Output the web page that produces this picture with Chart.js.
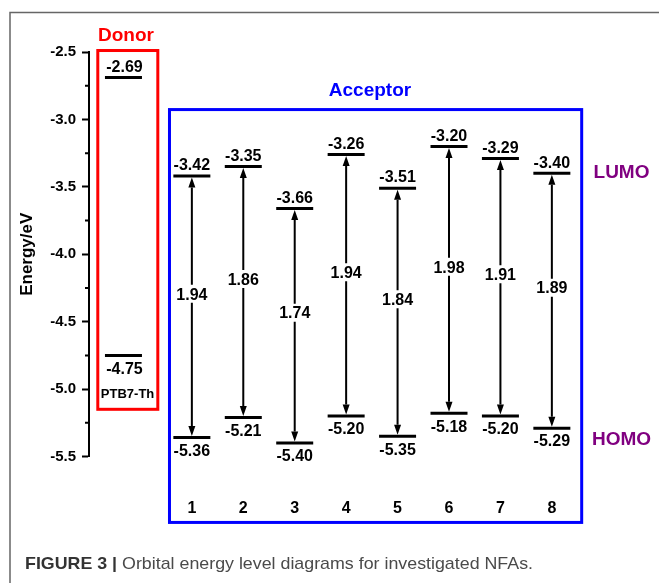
<!DOCTYPE html>
<html>
<head>
<meta charset="utf-8">
<script src="https://cdn.jsdelivr.net/npm/chart.js@4.4.1/dist/chart.umd.min.js"></script>
<style>
  html, body { margin: 0; padding: 0; background: #fff; }
  #wrap { position: relative; width: 659px; height: 583px; }
</style>
</head>
<body>
<div id="wrap"><canvas id="c" width="659" height="583"></canvas></div>
<script>
// ---- data (eV) ----
const acceptors = ['1', '2', '3', '4', '5', '6', '7', '8'];
const lumo = [-3.42, -3.35, -3.66, -3.26, -3.51, -3.20, -3.29, -3.40];
const homo = [-5.36, -5.21, -5.40, -5.20, -5.35, -5.18, -5.20, -5.29];
const gaps = [1.94, 1.86, 1.74, 1.94, 1.84, 1.98, 1.91, 1.89];
const donorName = 'PTB7-Th';
const donorLumo = -2.69;
const donorHomo = -4.75;

// ---- layout (data units) ----
const acceptorX = acceptors.map((_, i) => i + 1);
const donorX = -0.33;
const panels = [
  { color: '#ff0000', x0: -0.829, x1: 0.338, y0: -5.150, y1: -2.489 },
  { color: '#0000ff', x0: 0.565, x1: 8.580, y0: -5.989, y1: -2.927 }
];
const FONT = '"Liberation Sans", Arial, Helvetica, sans-serif';

function text(ctx, str, x, yc, size, color, weight, align) {
  ctx.font = `${weight || 'bold'} ${size}px ${FONT}`;
  ctx.fillStyle = color || '#000';
  ctx.textAlign = align || 'center';
  ctx.textBaseline = 'alphabetic';
  ctx.fillText(str, x, yc + size * 0.716 / 2);
}

const decor = {
  id: 'decor',
  afterDraw(chart) {
    const { ctx, chartArea, scales: { x, y } } = chart;
    const px = v => x.getPixelForValue(v);
    const py = v => y.getPixelForValue(v);
    ctx.save();

    // page frame
    ctx.strokeStyle = '#666';
    ctx.lineWidth = 1.5;
    ctx.beginPath();
    ctx.moveTo(10, 583); ctx.lineTo(10, 12.5); ctx.lineTo(659, 12.5);
    ctx.stroke();

    // minor ticks on the energy axis
    ctx.strokeStyle = '#000';
    ctx.lineWidth = 2;
    ctx.beginPath();
    for (let v = -5.25; v < -2.5; v += 0.5) {
      const yy = py(v);
      ctx.moveTo(chartArea.left - 4, yy); ctx.lineTo(chartArea.left, yy);
    }
    ctx.stroke();

    // donor / acceptor frames
    ctx.lineWidth = 3;
    for (const p of panels) {
      ctx.strokeStyle = p.color;
      ctx.strokeRect(px(p.x0), py(p.y1), px(p.x1) - px(p.x0), py(p.y0) - py(p.y1));
    }

    // gap arrows
    const HEAD = 10, HW = 3.5;
    ctx.fillStyle = '#000';
    ctx.strokeStyle = '#000';
    acceptorX.forEach((cx, i) => {
      const X = px(cx);
      const yt = py(lumo[i]) + 1.5;
      const yb = py(homo[i]) - 1.5;
      const yl = (py(lumo[i]) + py(homo[i])) / 2 - 13;
      ctx.lineWidth = 2;
      ctx.beginPath();
      ctx.moveTo(X, yt + HEAD); ctx.lineTo(X, yl - 9);
      ctx.moveTo(X, yl + 9); ctx.lineTo(X, yb - HEAD);
      ctx.stroke();
      ctx.beginPath();
      ctx.moveTo(X, yt); ctx.lineTo(X - HW, yt + HEAD); ctx.lineTo(X + HW, yt + HEAD); ctx.closePath();
      ctx.moveTo(X, yb); ctx.lineTo(X - HW, yb - HEAD); ctx.lineTo(X + HW, yb - HEAD); ctx.closePath();
      ctx.fill();
      text(ctx, gaps[i].toFixed(2), X, yl, 16);

      // level values
      text(ctx, lumo[i].toFixed(2), X, py(lumo[i]) - 11.5, 16);
      text(ctx, homo[i].toFixed(2), X, py(homo[i]) + 12.5, 16);
      // compound numbers
      text(ctx, acceptors[i], X, py(-5.873), 16);
    });

    // donor level values and name
    const DX = px(donorX);
    text(ctx, donorLumo.toFixed(2), DX + 1, py(donorLumo) - 11.5, 16);
    text(ctx, donorHomo.toFixed(2), DX + 1, py(donorHomo) + 12.5, 16);
    text(ctx, donorName, px(-0.25), py(-5.032), 13);

    // group labels
    text(ctx, 'Donor', px(-0.281), py(-2.370), 19, '#ff0000');
    text(ctx, 'Acceptor', px(4.464), py(-2.778), 19, '#0000ff');
    text(ctx, 'LUMO', px(9.354), py(-3.381), 19, '#800080');
    text(ctx, 'HOMO', px(9.354), py(-5.366), 19, '#800080');

    // caption
    const c1 = 'FIGURE 3 | ';
    const c2 = 'Orbital energy level diagrams for investigated NFAs.';
    ctx.textAlign = 'left';
    ctx.textBaseline = 'alphabetic';
    ctx.font = `bold 17px ${FONT}`;
    const w1 = ctx.measureText(c1).width;
    ctx.font = `normal 17px ${FONT}`;
    const w2 = ctx.measureText(c2).width;
    const sx = 508 / (w1 + w2);
    ctx.save();
    ctx.translate(25, 568.5);
    ctx.scale(sx, 1);
    ctx.font = `bold 17px ${FONT}`;
    ctx.fillStyle = '#333';
    ctx.fillText(c1, 0, 0);
    ctx.font = `normal 17px ${FONT}`;
    ctx.fillStyle = '#4a4a4a';
    ctx.fillText(c2, w1, 0);
    ctx.restore();

    ctx.restore();
  }
};

const levelStyle = {
  pointStyle: 'line',
  pointRadius: 18.5,
  pointBorderWidth: 3,
  pointBorderColor: '#000',
  pointBackgroundColor: '#000'
};

new Chart(document.getElementById('c'), {
  type: 'scatter',
  data: {
    datasets: [
      { label: 'LUMO', data: acceptorX.map((x, i) => ({ x, y: lumo[i] })), ...levelStyle },
      { label: 'HOMO', data: acceptorX.map((x, i) => ({ x, y: homo[i] })), ...levelStyle },
      { label: donorName, data: [{ x: donorX, y: donorLumo }, { x: donorX, y: donorHomo }], ...levelStyle }
    ]
  },
  options: {
    responsive: false,
    animation: false,
    events: [],
    layout: { padding: { left: 17, top: 52, right: 30, bottom: 126.5 } },
    plugins: { legend: { display: false }, tooltip: { enabled: false } },
    scales: {
      x: { type: 'linear', min: -1, max: 9.5, display: false },
      y: {
        min: -5.5, max: -2.5,
        ticks: {
          stepSize: 0.5,
          callback: v => Number(v).toFixed(1),
          font: { family: FONT, size: 15, weight: 'bold' },
          color: '#000',
          padding: 6
        },
        grid: { drawOnChartArea: false, tickLength: 7, tickWidth: 2, tickColor: '#000' },
        border: { color: '#000', width: 2 },
        title: {
          display: true, text: 'Energy/eV', color: '#000',
          font: { family: FONT, size: 17, weight: 'bold' },
          padding: { top: 0, bottom: 0 }
        },
        afterFit: s => { s.width = 72; }
      }
    }
  },
  plugins: [decor]
});
</script>
</body>
</html>
